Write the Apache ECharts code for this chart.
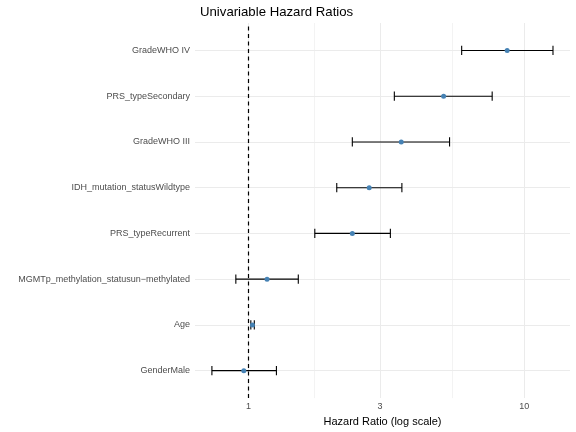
<!DOCTYPE html>
<html>
<head>
<meta charset="utf-8">
<script src="https://cdn.jsdelivr.net/npm/echarts@6/dist/echarts.min.js"></script>
<style>
  html, body { margin: 0; padding: 0; background: #ffffff; }
  #chart { width: 576px; height: 432px; }
</style>
</head>
<body>
<div id="chart"></div>
<script>
// Categories from bottom (position 1) to top (position 8)
const categories = [
  "GenderMale",
  "Age",
  "MGMTp_methylation_statusun\u2212methylated",
  "PRS_typeRecurrent",
  "IDH_mutation_statusWildtype",
  "GradeWHO III",
  "PRS_typeSecondary",
  "GradeWHO IV"
];
const hazardRatio = [0.962, 1.034, 1.168, 2.38, 2.74, 3.58, 5.10, 8.67];
const ciLower     = [0.737, 1.020, 0.900, 1.74, 2.09, 2.38, 3.38, 5.93];
const ciUpper     = [1.263, 1.050, 1.516, 3.27, 3.60, 5.36, 7.65, 12.71];
const xMajorBreaks = [1, 3, 10];
const xMinorBreaks = [1.732, 5.477];
const xTickLabels = ["1", "3", "10"];
const referenceHR = 1;

const positions = categories.map((c, i) => i + 1);

const chart = echarts.init(document.getElementById('chart'), null, { renderer: 'canvas' });
const FONT = 'Liberation Sans, Arial, Helvetica, sans-serif';

const gridMajor = { color: '#ebebeb', width: 1.07, type: 'solid' };
const gridMinor = { color: '#ebebeb', width: 0.6, type: 'solid' };

const option = {
  backgroundColor: '#ffffff',
  animation: false,
  title: {
    text: 'Univariable Hazard Ratios',
    left: 195,
    top: 1,
    textStyle: { fontFamily: FONT, fontSize: 13.2, fontWeight: 'normal', color: '#000000' }
  },
  grid: { left: 195, right: 6, top: 23, bottom: 32, containLabel: false },
  xAxis: {
    type: 'log',
    logBase: 10,
    min: 0.64,
    max: 14.65,
    name: 'Hazard Ratio (log scale)',
    nameLocation: 'middle',
    nameGap: 15,
    nameTextStyle: { fontFamily: FONT, fontSize: 11, color: '#000000', verticalAlign: 'top' },
    axisLine: { show: false },
    axisTick: { show: false, customValues: xMajorBreaks },
    splitLine: { show: false },
    minorSplitLine: { show: false },
    axisLabel: {
      customValues: xMajorBreaks,
      formatter: function (v) {
        const idx = xMajorBreaks.findIndex(b => Math.abs(b - v) < 1e-6);
        return idx >= 0 ? xTickLabels[idx] : '';
      },
      fontFamily: FONT, fontSize: 9, color: '#4d4d4d', margin: 4
    }
  },
  yAxis: {
    type: 'value',
    min: 0.4,
    max: 8.6,
    axisLine: { show: false },
    axisTick: { show: false, customValues: positions },
    splitLine: { show: false },
    axisLabel: {
      customValues: positions,
      formatter: function (v) {
        const i = Math.round(v) - 1;
        return categories[i] || '';
      },
      fontFamily: FONT, fontSize: 9, color: '#4d4d4d', margin: 5
    }
  },
  series: [
    {
      // background panel grid
      type: 'line',
      data: [],
      silent: true,
      z: 1,
      markLine: {
        z: 1,
        silent: true,
        symbol: ['none', 'none'],
        label: { show: false },
        animation: false,
        data: [].concat(
          xMinorBreaks.map(v => ({ xAxis: v, lineStyle: gridMinor })),
          xMajorBreaks.map(v => ({ xAxis: v, lineStyle: gridMajor })),
          positions.map(v => ({ yAxis: v, lineStyle: gridMajor }))
        )
      }
    },
    {
      // reference line at HR = 1
      type: 'line',
      data: [],
      silent: true,
      z: 3,
      markLine: {
        z: 3,
        silent: true,
        symbol: ['none', 'none'],
        label: { show: false },
        animation: false,
        data: [{ xAxis: referenceHR, lineStyle: { color: '#000000', width: 1.2, type: [4, 3.5] } }]
      }
    },
    {
      type: 'custom',
      z: 4,
      silent: true,
      data: positions.map((p, i) => [ciLower[i], ciUpper[i], p]),
      encode: { x: [0, 1], y: 2 },
      renderItem: function (params, api) {
        const lo = api.coord([api.value(0), api.value(2)]);
        const hi = api.coord([api.value(1), api.value(2)]);
        const h = api.size([0, 0.2])[1] / 2;
        const style = { stroke: '#000000', lineWidth: 1.1, fill: null };
        return {
          type: 'group',
          children: [
            { type: 'line', shape: { x1: lo[0], y1: lo[1], x2: hi[0], y2: hi[1] }, style: style },
            { type: 'line', shape: { x1: lo[0], y1: lo[1] - h, x2: lo[0], y2: lo[1] + h }, style: style },
            { type: 'line', shape: { x1: hi[0], y1: hi[1] - h, x2: hi[0], y2: hi[1] + h }, style: style }
          ]
        };
      }
    },
    {
      type: 'scatter',
      z: 5,
      silent: true,
      symbol: 'circle',
      symbolSize: 5,
      itemStyle: { color: '#4682B4', opacity: 1 },
      data: positions.map((p, i) => [hazardRatio[i], p])
    }
  ]
};

chart.setOption(option);
</script>
</body>
</html>
